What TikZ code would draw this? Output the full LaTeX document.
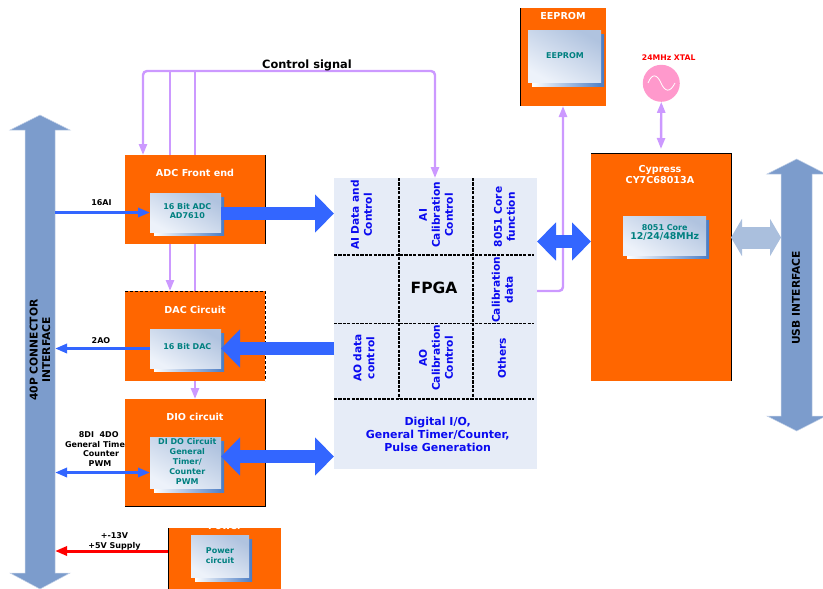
\documentclass[tikz,border=0pt]{standalone}
\usepackage{fontspec}
\setmainfont{DejaVu Sans}
\usetikzlibrary{arrows.meta,calc}
\definecolor{blockorange}{HTML}{FF6600}
\definecolor{lilac}{HTML}{CC99FF}
\definecolor{busblue}{HTML}{7C9CCC}
\definecolor{busedge}{HTML}{C4D2E8}
\definecolor{linkblue}{HTML}{3366FF}
\definecolor{lightlink}{HTML}{AABFDD}
\definecolor{fpgabg}{HTML}{E6ECF7}
\definecolor{chiplight}{HTML}{EDF2FA}
\definecolor{chipdark}{HTML}{B0C3DF}
\definecolor{shadowblue}{HTML}{4A7CC4}
\definecolor{chiptext}{HTML}{008080}
\definecolor{celltext}{HTML}{0A0AF0}
\definecolor{xtalpink}{HTML}{FF99CC}
\tikzset{
  x=1pt,y=-1pt,
  smalltip/.tip={Triangle[length=11pt,width=8pt]},
  linktip/.tip={Triangle[length=12pt,width=9pt]},
  bigtip/.tip={Triangle[length=19pt,width=37pt]},
  lighttip/.tip={Triangle[length=11pt,width=37pt]},
  block/.style={fill=blockorange,inner sep=0pt,outer sep=0pt},
  chipbox/.style={inner sep=0pt,outer sep=0pt,bottom color=chiplight,top color=chipdark,shading angle=-30},
  shadowstrip/.style={left color=white,right color=shadowblue},
  edgeline/.style={black,line width=0.9pt},
  edgedash/.style={black,line width=0.9pt,dash pattern=on 3pt off 2pt},
  griddash/.style={black,line width=1.3pt,dash pattern=on 3.2pt off 1.2pt},
  title/.style={text=white,font=\fontsize{9.6}{11.5}\selectfont\bfseries,align=center,inner sep=0pt},
  chiplabel/.style={text=chiptext,font=\fontsize{8}{9.8}\selectfont\bfseries,align=center,inner sep=0pt},
  outerlabel/.style={text=black,font=\fontsize{8}{9.3}\selectfont\bfseries,align=center,inner sep=0pt},
  cell/.style={text=celltext,font=\fontsize{11}{13}\selectfont\bfseries,align=center,inner sep=0pt},
  vcell/.style={cell,font=\fontsize{10.6}{13}\selectfont\bfseries,rotate=90},
  buslabel/.style={text=black,font=\fontsize{10.7}{12.5}\selectfont\bfseries,align=center,inner sep=0pt,rotate=90},
  busshape/.style={fill=busblue,draw=busedge,line width=0.5pt},
  ctl/.style={lilac,line width=2.4pt,rounded corners=4pt},
  biglink/.style={linkblue,line width=13.5pt},
  thinlink/.style={linkblue,line width=3pt},
}
\begin{document}
\begin{tikzpicture}
\useasboundingbox (0,0) rectangle (823,589);

% control lines, behind the blocks
\node[inner sep=0pt,outer sep=0pt,minimum width=140pt,minimum height=89pt] (adc) at (195,199.5) {};
\node[inner sep=0pt,outer sep=0pt,minimum width=140pt,minimum height=90pt] (dac) at (195,336) {};
\node[inner sep=0pt,outer sep=0pt,minimum width=140pt,minimum height=107pt] (dio) at (195,452.5) {};
\node[inner sep=0pt,outer sep=0pt,minimum width=86pt,minimum height=98pt] (eeprom) at (563,57) {};
\node[inner sep=0pt,outer sep=0pt,minimum width=140pt,minimum height=228pt] (cypress) at (661,267) {};
\node[fill=fpgabg,inner sep=0pt,outer sep=0pt,minimum width=203pt,minimum height=291pt] (fpga) at (435.5,323.5) {};
\coordinate (ctla) at (143,71);
\coordinate (ctlb) at (170,71);
\coordinate (ctlc) at (195,71);
\coordinate (ctld) at (435,71);
\coordinate (cald) at (563,291);
\draw[ctl,{smalltip}-{smalltip}] (adc.north -| ctla) -- (ctla) -- (ctld) -- (fpga.north -| ctld);
\draw[ctl,-{smalltip}] (ctlb) -- (dac.north -| ctlb);
\draw[ctl,-{smalltip}] (ctlc) -- (dio.north);
\draw[ctl,-{smalltip}] (fpga.east |- cald) -- (cald) -- (eeprom.south);

% buses
\path[busshape] (40,115) -- (70,130) -- (55,130) -- (55,573) -- (70,573) -- (40,589)
  -- (10,573) -- (25,573) -- (25,130) -- (10,130) -- cycle;
\path[busshape] (796.7,159) -- (826,174) -- (812,174) -- (812,416) -- (826,416) -- (796.7,431)
  -- (767,416) -- (781,416) -- (781,174) -- (767,174) -- cycle;
\coordinate (connedge) at (55,0);
\coordinate (usbedge) at (781,0);

% blocks
\node[block,minimum width=140pt,minimum height=89pt] (adcfill) at (adc) {};
\node[block,minimum width=140pt,minimum height=90pt] (dacfill) at (dac) {};
\node[block,minimum width=140pt,minimum height=107pt] (diofill) at (dio) {};
\node[block,minimum width=113pt,minimum height=61pt] (power) at (224.5,558.5) {};
\node[block,minimum width=86pt,minimum height=98pt] (eepromfill) at (eeprom) {};
\node[block,minimum width=140pt,minimum height=228pt] (cypressfill) at (cypress) {};
\node[circle,fill=xtalpink,inner sep=0pt,outer sep=0pt,minimum size=37pt] (xtal) at (661.3,83.3) {};
\draw[white,line width=0.8pt] (648,83) .. controls (652,73) and (657,74) .. (661,83) .. controls (665,92) and (670,93) .. (675,83);

% block edges
\draw[edgeline] (adc.north east) -- (adc.south east);
\draw[edgedash] (dac.north west) -- (dac.north east) -- (dac.south east);
\draw[edgeline] (dio.north east) -- (dio.south east) -- (dio.south west);
\draw[edgeline] (power.north west) -- (power.south west);
\draw[edgeline] (eeprom.north west) -- (eeprom.south west);
\draw[edgeline] (cypress.north west) -- (cypress.north east) -- (cypress.south east);

% chips
\shade[shadowstrip] (154,197) rectangle (224,235);
\node[chipbox,minimum width=71pt,minimum height=39pt] (adcchip) at (185.5,212.5) {};
\shade[shadowstrip] (154,333) rectangle (224,371);
\node[chipbox,minimum width=71pt,minimum height=39pt] (dacchip) at (185.5,348.5) {};
\shade[shadowstrip] (154,441) rectangle (224,492);
\node[chipbox,minimum width=71pt,minimum height=51pt] (diochip) at (185.5,462.5) {};
\shade[shadowstrip] (195,539) rectangle (252,581);
\node[chipbox,minimum width=58pt,minimum height=42pt] (powerchip) at (220,556) {};
\shade[shadowstrip] (532,34) rectangle (604,86);
\node[chipbox,minimum width=73pt,minimum height=52pt] (eepromchip) at (564.5,56) {};
\shade[shadowstrip] (627,220) rectangle (709,258);
\node[chipbox,minimum width=83pt,minimum height=39pt] (corechip) at (664.5,235.5) {};

% FPGA grid
\coordinate (gridx) at (534,0);
\foreach \gy in {255,323.5,399} \draw[griddash] (fpga.west |- 0,\gy) -- (gridx |- 0,\gy);
\foreach \gx in {399,473} \draw[griddash] (\gx,178) -- (\gx,399);

% thick links
\draw[biglink,-{bigtip}] ([yshift=-1pt]adcchip.east) -- ([yshift=-1pt]adcchip.east -| fpga.west);
\draw[biglink,-{bigtip}] (dacchip.east -| fpga.west) -- (dacchip.east);
\draw[biglink,{bigtip}-{bigtip}] ([yshift=6pt]diochip.east) -- ([yshift=6pt]diochip.east -| fpga.west);
\coordinate (linkc) at (0,241.5);
\draw[biglink,{bigtip}-{bigtip}] (fpga.east |- linkc) -- (cypress.west |- linkc);
\coordinate (linku) at (0,237.5);
\draw[lightlink,line width=22pt,{lighttip}-{lighttip}] (cypress.east |- linku) -- (usbedge |- linku);

% thin links
\draw[thinlink,-{linktip}] (connedge |- adcchip.west) -- (adcchip.west);
\draw[thinlink,-{linktip}] (dacchip.west) -- (connedge |- dacchip.west);
\coordinate (diolink) at (0,472.5);
\draw[thinlink,{linktip}-{linktip}] (connedge |- diolink) -- (diochip.west |- diolink);
\draw[red,line width=3pt,-{linktip}] (power.west |- 0,551) -- (connedge |- 0,551);
\draw[ctl,{smalltip}-{smalltip}] (xtal.south) -- ([yshift=4pt]cypress.north);

% text
\node[font=\fontsize{11.4}{13}\selectfont\bfseries,inner sep=0pt] (ctltext) at (307,65) {Control signal};
\node[buslabel] (conntext) at (40,350) {40P CONNECTOR\\INTERFACE};
\node[buslabel] (usbtext) at (796,298) {USB INTERFACE};

\node[title] (adctitle) at (195,173) {ADC Front end};
\node[title] (dactitle) at (195,310) {DAC Circuit};
\node[title] (diotitle) at (195,417) {DIO circuit};
\node[title] (powertitle) at (225,526) {Power};
\node[title] (eepromtitle) at (563,16.5) {EEPROM};
\node[title] (cypresstitle) at (660,174.5) {Cypress\\CY7C68013A};

\node[chiplabel] (adctext) at (187.3,211) {16 Bit ADC\\AD7610};
\node[chiplabel] (dactext) at (187.3,347) {16 Bit DAC};
\node[chiplabel] (diotext) at (187.3,461.5) {DI DO Circuit\\General\\Timer/\\Counter\\PWM};
\node[chiplabel] (powertext) at (220,555.5) {Power\\circuit};
\node[chiplabel] (eepromtext) at (565,56) {EEPROM};
\node[chiplabel] (coretext) at (664.7,232.5) {8051 Core\\{\fontsize{9.4}{9.8}\selectfont 12/24/48MHz}};

\node[outerlabel] (ailabel) at (101.5,203) {16AI};
\node[outerlabel] (aolabel) at (101,341) {2AO};
\node[outerlabel] (diolabela) at (98.7,435) {8DI~~4DO};
\node[outerlabel] (diolabelb) at (95,445) {General Time};
\node[outerlabel] (diolabelc) at (101,454) {Counter};
\node[outerlabel] (diolabeld) at (100,464) {PWM};
\node[outerlabel] (pwrlabel) at (114.5,541.5) {+-13V\\+5V Supply};
\node[outerlabel,text=red,font=\fontsize{7.7}{9}\selectfont\bfseries] (xtallabel) at (668.7,58) {24MHz XTAL};

\node[vcell] (aidata) at (361.5,215) {AI Data and\\Control};
\node[vcell] (aical) at (436,215) {AI\\Calibration\\Control};
\node[vcell] (core) at (504.5,217) {8051 Core\\function};
\node[vcell] (caldata) at (502.5,290) {Calibration\\data};
\node[vcell] (aodata) at (364,358) {AO data\\control};
\node[vcell] (aocal) at (436,358) {AO\\Calibration\\Control};
\node[vcell] (others) at (502,358) {Others};
\node[cell] (digital) at (437.7,434) {Digital I/O,\\General Timer/Counter,\\Pulse Generation};
\node[font=\fontsize{15.5}{18}\selectfont\bfseries,inner sep=0pt] (fpgatext) at (434,288) {FPGA};
\end{tikzpicture}
\end{document}
